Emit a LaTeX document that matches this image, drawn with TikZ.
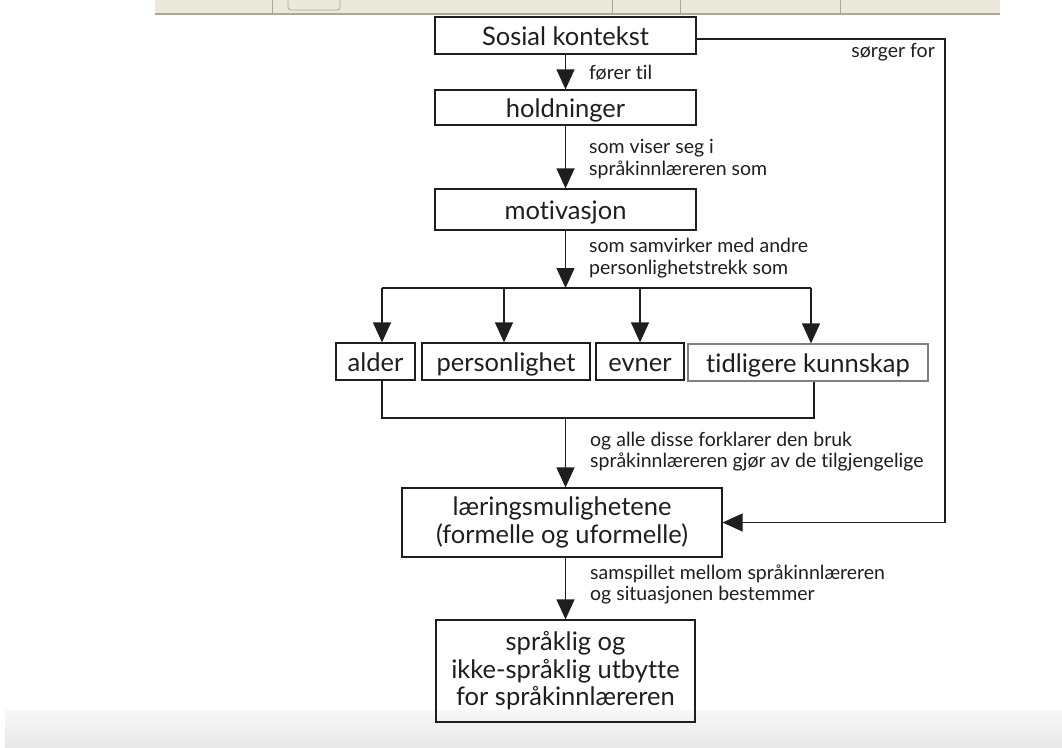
\documentclass[tikz,border=0pt]{standalone}
\usepackage{fontspec}
\setmainfont{Lato}[Ligatures={NoCommon}]
\usetikzlibrary{arrows.meta,positioning}
\definecolor{inkgray}{HTML}{1E1E1E}
\definecolor{barface}{HTML}{ECE9DC}
\definecolor{barline}{HTML}{ADA894}
\tikzset{
    box/.style={draw=inkgray, line width=1.2pt, inner sep=0pt, align=center,
        text=inkgray, font=\fontsize{25.5}{27.5}\selectfont},
    onebox/.style={box, text height=21pt, text depth=2pt},
    note/.style={anchor=west, align=left, inner sep=0pt, text=inkgray,
        font=\fontsize{19.5}{21.5}\selectfont},
    flow/.style={draw=inkgray, line width=1.2pt, -{Triangle[width=18pt,length=20pt]}},
    link/.style={draw=inkgray, line width=1.2pt},
}

\begin{document}
\begin{tikzpicture}[x=1pt,y=-1pt]
\useasboundingbox (0,0) rectangle (1062,747);
% screen bars
\fill[barface] (155,0) rectangle (1000,13);
\fill[barline] (155,13) rectangle (1000,15);
\foreach \x in {272,612,680,840}
    \draw[barline, line width=1pt] (\x,0) -- (\x,13);
\draw[barline, rounded corners=3pt, line width=0.8pt] (288,-4) rectangle (340,10);
\shade[top color=white!97!black, bottom color=white!91!black] (5,710) rectangle (1062,747);
% boxes
\node[onebox, minimum width=261pt, minimum height=37pt] (sosial) at (565.5,35.5) {Sosial kontekst};
\node[onebox, minimum width=261pt, minimum height=35pt] (hold) at (565.5,107.5) {holdninger};
\node[onebox, minimum width=261pt, minimum height=41pt] (motiv) at (565.5,209.5) {motivasjon};
\node[onebox, minimum width=79pt, minimum height=37pt] (alder) at (375.5,361.5) {alder};
\node[onebox, minimum width=168pt, minimum height=37pt] (pers) at (506,361.5) {personlighet};
\node[onebox, minimum width=88pt, minimum height=37pt] (evner) at (640,361.5) {evner};
\node[onebox, draw=gray, minimum width=240pt, minimum height=37pt] (tidl) at (808,362.5) {tidligere kunnskap};
\node[box, minimum width=320pt, minimum height=69pt] (laer) at (562,522.5) {læringsmulighetene\\(formelle og uformelle)};
\node[box, minimum width=259pt, minimum height=102pt] (utb) at (565.5,671) {språklig og\\ikke-språklig utbytte\\for språkinnlæreren};
% labels
\node[note] (ltil) at (589,73) {fører til};
\node[note] (lviser) at (589,159) {som viser seg i\\språkinnlæreren som};
\node[note] (lsamv) at (589,258) {som samvirker med andre\\personlighetstrekk som};
\node[note] (lalle) at (590,451.5) {og alle disse forklarer den bruk\\språkinnlæreren gjør av de tilgjengelige};
\node[note] (lsamsp) at (590,584.5) {samspillet mellom språkinnlæreren\\og situasjonen bestemmer};
\node[note, anchor=east] (lsorg) at (935,52) {sørger for};
% main line
\draw[flow] (sosial) -- (hold);
\draw[flow] (hold) -- (motiv);
\coordinate (fork) at (565.5,288);
\draw[flow] (motiv) -- (fork);
\coordinate (forkL) at (382,288);
\coordinate (forkR) at (811,288);
\draw[link] (forkL) -- (forkR);
\foreach \n/\x in {alder/382, pers/504, evner/640, tidl/811} {%
    \coordinate (top\n) at (\x,288);
    \draw[flow] (top\n) -- (top\n |- \n.north);}
% join below the four boxes
\coordinate (joinL) at (382,418);
\coordinate (joinR) at (814,418);
\coordinate (join) at (565.5,418);
\draw[link] (joinL |- alder.south) -- (joinL) -- (joinR) -- (joinR |- tidl.south);
\draw[flow] (join) -- (join |- laer.north);
\draw[flow] (utb.north |- laer.south) -- (utb.north);
% side line
\coordinate (side) at (945,39);
\draw[flow] (sosial.east |- side) -- (side) -- (side |- laer.east) -- (laer.east);
\end{tikzpicture}
\end{document}
